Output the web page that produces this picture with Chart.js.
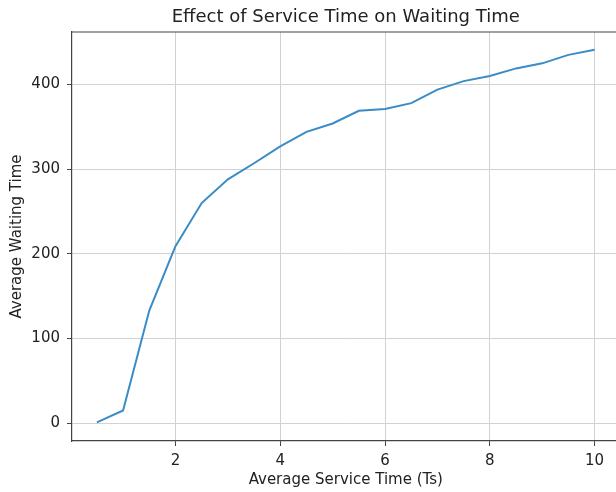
<!DOCTYPE html>
<html>
<head>
<meta charset="utf-8">
<script src="https://cdn.jsdelivr.net/npm/chart.js@4"></script>
<style>
  html, body { margin: 0; padding: 0; overflow: hidden; background: #fff; }
  #wrap { width: 624px; height: 492px; }
</style>
</head>
<body>
<div id="wrap"><canvas id="chart"></canvas></div>
<script>
// Data
const serviceTimes = [0.5, 1, 1.5, 2, 2.5, 3, 3.5, 4, 4.5, 5, 5.5, 6, 6.5, 7, 7.5, 8, 8.5, 9, 9.5, 10];
const waitingTimes = [1, 15, 133, 209, 260, 288, 307, 327, 344, 354, 369, 371, 378, 394, 404, 410, 419, 425, 435, 441];
const xTicks = [2, 4, 6, 8, 10];
const yTicks = [0, 100, 200, 300, 400];

const chartTitle = 'Effect of Service Time on Waiting Time';
const fontFamily = '"DejaVu Sans", sans-serif';
const spineColor = '#444';
const gridColor = '#d2d2d2';

// Title centred over the plot area plus the top/right frame lines
const framePlugin = {
    id: 'frame',
    afterDraw(chart) {
        const { ctx, chartArea } = chart;
        ctx.save();
        ctx.strokeStyle = spineColor;
        ctx.lineWidth = 1.2;
        ctx.beginPath();
        ctx.moveTo(chartArea.left, chartArea.top);
        ctx.lineTo(chartArea.right, chartArea.top);
        ctx.lineTo(chartArea.right, chartArea.bottom);
        ctx.stroke();

        ctx.fillStyle = '#222';
        ctx.font = '18px ' + fontFamily;
        ctx.textAlign = 'center';
        ctx.textBaseline = 'alphabetic';
        ctx.fillText(chartTitle, (chartArea.left + chartArea.right) / 2, 22);
        ctx.restore();
    }
};

const ctx = document.getElementById('chart').getContext('2d');
new Chart(ctx, {
    type: 'line',
    data: {
        datasets: [{
            data: serviceTimes.map((x, i) => ({ x: x, y: waitingTimes[i] })),
            borderColor: '#3a8cc6',
            borderWidth: 2,
            pointRadius: 0,
            tension: 0,
            fill: false
        }]
    },
    options: {
        responsive: true,
        maintainAspectRatio: false,
        animation: false,
        layout: {
            padding: { top: 32, right: 4.5, left: 0, bottom: 0 }
        },
        plugins: {
            legend: { display: false },
            tooltip: { enabled: false }
        },
        scales: {
            x: {
                type: 'linear',
                min: 0.025,
                max: 10.475,
                afterBuildTicks: (scale) => {
                    scale.ticks = xTicks.map(v => ({ value: v }));
                },
                afterFit: (scale) => { scale.height = 51; },
                ticks: {
                    color: '#222',
                    font: { family: fontFamily, size: 15 },
                    padding: 6,
                    maxRotation: 0
                },
                grid: {
                    color: gridColor,
                    lineWidth: 1,
                    tickColor: spineColor,
                    tickLength: 5
                },
                border: { color: spineColor, width: 1.2 },
                title: {
                    display: true,
                    text: 'Average Service Time (Ts)',
                    color: '#222',
                    font: { family: fontFamily, size: 15 },
                    padding: { top: 0, bottom: 3 }
                }
            },
            y: {
                min: -21,
                max: 462,
                afterBuildTicks: (scale) => {
                    scale.ticks = yTicks.map(v => ({ value: v }));
                },
                afterFit: (scale) => { scale.width = 72; },
                ticks: {
                    color: '#222',
                    font: { family: fontFamily, size: 15 },
                    padding: 7
                },
                grid: {
                    color: gridColor,
                    lineWidth: 1,
                    tickColor: spineColor,
                    tickLength: 5
                },
                border: { color: spineColor, width: 1.2 },
                title: {
                    display: true,
                    text: 'Average Waiting Time',
                    color: '#222',
                    font: { family: fontFamily, size: 15 },
                    padding: { top: 7.7, bottom: 0 }
                }
            }
        }
    },
    plugins: [framePlugin]
});
</script>
</body>
</html>
